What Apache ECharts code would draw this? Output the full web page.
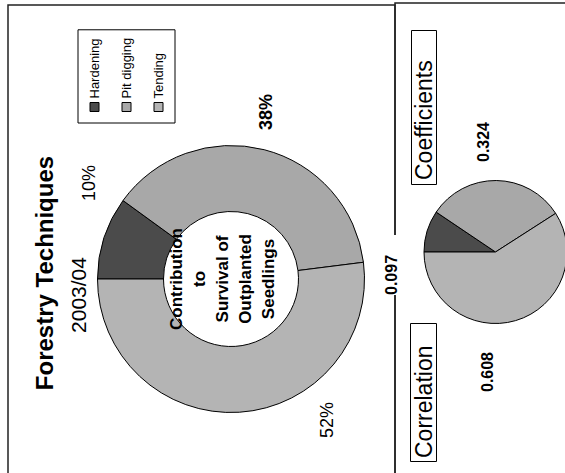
<!DOCTYPE html>
<html>
<head>
<meta charset="utf-8">
<script src="https://cdn.jsdelivr.net/npm/echarts@6/dist/echarts.min.js"></script>
<style>
html,body{margin:0;padding:0;background:#fff;overflow:hidden;width:565px;height:473px;}
#chart{position:absolute;left:0;top:0;width:473px;height:565px;transform-origin:0 0;transform:translate(0,473px) rotate(-90deg);}
</style>
</head>
<body>
<div id="chart"></div>
<script>
// ---- data ----
const categories = ['Hardening', 'Pit digging', 'Tending'];
const contribution = [10, 38, 52];            // % contribution to survival
const correlation = [0.097, 0.324, 0.608];    // correlation coefficients
const titleText = 'Forestry Techniques';
const subtitleText = '2003/04';
const centerText = 'Contribution\nto\nSurvival of\nOutplanted\nSeedlings';

// ---- layout / style (upright coordinates; page is rotated -90deg) ----
const FONT = '"Liberation Sans", Arial, sans-serif';
const colors = ['#4b4b4b', '#a8a8a8', '#b4b4b4'];
const donutC = [194, 231];
const pieC = [221, 495.5];
const donutLabelOff = [[96, -142], [167, 35], [-141, 96]];
const donutLabelBold = [false, true, false];
const pieLabelOff = [[-43, -104.5], [110, -12.5], [-120, -8.5]];

const chart = echarts.init(document.getElementById('chart'), null, {renderer: 'svg', width: 473, height: 565});

const donutData = categories.map((n, i) => ({
  name: n, value: contribution[i],
  itemStyle: {color: colors[i]},
  label: {fontWeight: donutLabelBold[i] ? 'bold' : 'normal'}
}));
const pieData = categories.map((n, i) => ({
  name: n, value: correlation[i],
  itemStyle: {color: colors[i]},
  label: i === 0 ? {backgroundColor: '#fff', padding: [4, 20, 4, 0]} : {}
}));

chart.setOption({
  animation: false,
  backgroundColor: '#fff',
  textStyle: {fontFamily: FONT},
  title: [
    {text: titleText, left: 200, top: 44, textAlign: 'center', textVerticalAlign: 'middle', padding: 0,
     textStyle: {fontFamily: FONT, fontSize: 24, fontWeight: 'bold', color: '#000', lineHeight: 27}},
    {text: subtitleText, left: 178, top: 78, textAlign: 'center', textVerticalAlign: 'middle', padding: 0,
     textStyle: {fontFamily: FONT, fontSize: 21, fontWeight: 'normal', color: '#000', lineHeight: 24}},
    {text: 'Coefficients', left: 288, top: 411, padding: [1, 30, 1, 5], borderColor: '#000', borderWidth: 1,
     textStyle: {fontFamily: FONT, fontSize: 23, fontWeight: 'normal', color: '#000', lineHeight: 24}},
    {text: 'Correlation', left: 11, top: 410, padding: [1, 22, 1, 4], borderColor: '#000', borderWidth: 1,
     textStyle: {fontFamily: FONT, fontSize: 23, fontWeight: 'normal', color: '#000', lineHeight: 25}}
  ],
  legend: {
    orient: 'vertical', left: 350, top: 78,
    padding: [10, 8, 10, 11], itemGap: 19, itemWidth: 9, itemHeight: 9,
    borderColor: '#000', borderWidth: 1, icon: 'rect',
    itemStyle: {borderColor: '#000', borderWidth: 1},
    textStyle: {fontFamily: FONT, fontSize: 13, color: '#000', padding: [0, 0, 0, -1]},
    data: categories
  },
  graphic: [
    {type: 'rect', z: 0, silent: true, shape: {x: -5, y: 8, width: 473, height: 387},
     style: {fill: null, stroke: '#222', lineWidth: 1.5}},
    {type: 'rect', z: 0, silent: true, shape: {x: -5, y: 395, width: 475, height: 200},
     style: {fill: null, stroke: '#222', lineWidth: 1.5}},
    {type: 'text', z: 100, silent: true, x: donutC[0], y: donutC[1] - 9,
     style: {text: centerText, font: 'bold 17px ' + FONT, fill: '#000', align: 'center', verticalAlign: 'middle', lineHeight: 23}}
  ],
  series: [
    {
      type: 'pie', name: 'Contribution', z: 2,
      center: donutC, radius: [67.5, 133.5], startAngle: 90, clockwise: true,
      avoidLabelOverlap: false, silent: true,
      itemStyle: {borderColor: '#000', borderWidth: 1},
      label: {show: true, position: 'outside', formatter: '{c}%', fontFamily: FONT, fontSize: 18, color: '#000'},
      labelLine: {show: false},
      labelLayout: function (p) {
        const o = donutLabelOff[p.dataIndex];
        return {x: donutC[0] + o[0], y: donutC[1] + o[1], align: 'center', verticalAlign: 'middle'};
      },
      data: donutData
    },
    {
      type: 'pie', name: 'Correlation', z: 2,
      center: pieC, radius: [0, 71.5], startAngle: 90, clockwise: true,
      avoidLabelOverlap: false, silent: true,
      itemStyle: {borderColor: '#000', borderWidth: 1},
      label: {show: true, position: 'outside', formatter: p => p.value.toFixed(3), fontFamily: FONT, fontSize: 16, fontWeight: 'bold', color: '#000'},
      labelLine: {show: false},
      labelLayout: function (p) {
        const o = pieLabelOff[p.dataIndex];
        return {x: pieC[0] + o[0], y: pieC[1] + o[1], align: p.dataIndex === 0 ? 'left' : 'center', verticalAlign: 'middle'};
      },
      data: pieData
    }
  ]
});
</script>
</body>
</html>
